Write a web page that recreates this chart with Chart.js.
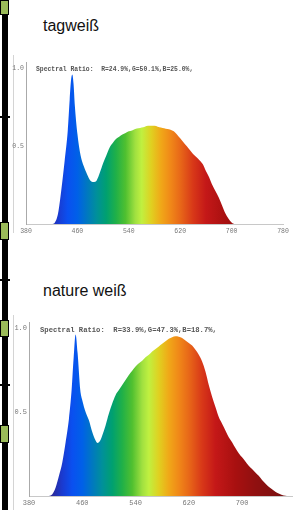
<!DOCTYPE html>
<html>
<head>
<meta charset="utf-8">
<script src="https://cdn.jsdelivr.net/npm/chart.js@4.4.1/dist/chart.umd.min.js"></script>
<style>
  html, body { margin: 0; padding: 0; background: #fff; }
  body { width: 293px; height: 510px; position: relative; overflow: hidden; font-family: "Liberation Sans", Arial, sans-serif; }
  .abs { position: absolute; }
  .bar { left: 2px; top: 0; width: 6px; height: 510px; background: #000; }
  .box { left: 0; width: 7px; background: #9bbb59; border: 1px solid #000; }
  .rule { left: 0; width: 10px; height: 2px; background: #000; }
  .frame { left: 13px; width: 1px; background: #d4d4d4; }
  .title { left: 43px; font-size: 16px; color: #111; }
  .ratio { font-family: "Liberation Mono", monospace; font-weight: bold; color: #555; white-space: pre; }
  .wrap { left: 0; width: 293px; }
</style>
</head>
<body>
<div class="abs bar"></div>
<div class="abs box" style="top:0;height:13px"></div>
<div class="abs box" style="top:222px;height:16px"></div>
<div class="abs box" style="top:320px;height:15px"></div>
<div class="abs box" style="top:425px;height:16px"></div>
<div class="abs rule" style="top:116px"></div>
<div class="abs rule" style="top:279px"></div>
<div class="abs rule" style="top:384px"></div>

<div class="abs frame" style="top:55px;height:178px"></div>
<div class="abs frame" style="top:315px;height:195px"></div>

<div class="abs title" style="top:17px">tagweiß</div>
<div class="abs title" style="top:282px">nature weiß</div>

<div class="abs wrap" style="top:50px;height:190px"><canvas id="chart1"></canvas></div>
<div class="abs wrap" style="top:305px;height:205px"><canvas id="chart2"></canvas></div>

<div class="abs ratio" style="left:36px;top:66px;font-size:6.4px">Spectral Ratio:  R=24.9%,G=50.1%,B=25.0%,</div>
<div class="abs ratio" style="left:40px;top:326px;font-size:7.2px">Spectral Ratio:  R=33.9%,G=47.3%,B=18.7%,</div>

<script>
// tagweiß spectrum
const wavelengths1 = [380, 420, 425, 430, 435, 440, 445, 448, 450, 452, 454, 456,
    460, 465, 470, 475, 480, 485, 490, 495, 500, 505, 510, 515, 520, 525, 530, 535,
    540, 545, 550, 555, 560, 565, 570, 575, 580, 585, 590, 595, 600, 605, 610, 615,
    620, 625, 630, 635, 640, 645, 650, 655, 660, 665, 670, 675, 680, 685, 690, 695,
    700, 705, 780];
const intensity1 = [0, 0, 0.01, 0.07, 0.22, 0.40, 0.60, 0.80, 0.92, 0.96, 0.90, 0.76,
    0.58, 0.44, 0.37, 0.32, 0.28, 0.27, 0.28, 0.33, 0.39, 0.44, 0.49, 0.52, 0.545, 0.56, 0.575, 0.585,
    0.595, 0.60, 0.61, 0.615, 0.62, 0.625, 0.63, 0.63, 0.63, 0.625, 0.62, 0.615, 0.61, 0.605, 0.595, 0.575,
    0.55, 0.525, 0.50, 0.475, 0.45, 0.43, 0.41, 0.385, 0.34, 0.30, 0.25, 0.21, 0.17, 0.12, 0.07, 0.035,
    0.01, 0, 0];

// nature weiß spectrum
const wavelengths2 = [380, 410, 415, 420, 425, 430, 435, 440, 444, 447, 450, 453, 457,
    460, 465, 470, 475, 480, 483, 487,
    490, 495, 500, 505, 510, 515, 520, 525, 530, 535, 540, 545, 550, 555, 560, 565,
    570, 575, 580, 585, 590, 595, 600, 605, 610, 615, 620, 625, 630, 635, 640, 645,
    650, 655, 660, 665, 670, 675, 680, 685, 690, 695, 700, 705, 710, 715, 720, 725,
    730, 735, 740, 745, 750, 755, 760, 765, 770, 780];
const intensity2 = [0, 0, 0.01, 0.05, 0.12, 0.20, 0.32, 0.46, 0.63, 0.82, 0.96, 0.85, 0.63,
    0.57, 0.50, 0.45, 0.38, 0.33, 0.315, 0.33,
    0.36, 0.42, 0.49, 0.55, 0.60, 0.63, 0.66, 0.69, 0.72, 0.745, 0.77, 0.79, 0.805, 0.825, 0.84, 0.86,
    0.875, 0.89, 0.905, 0.92, 0.935, 0.945, 0.95, 0.948, 0.94, 0.925, 0.91, 0.895, 0.87, 0.84, 0.80, 0.74,
    0.66, 0.59, 0.53, 0.47, 0.43, 0.39, 0.35, 0.32, 0.285, 0.255, 0.23, 0.205, 0.18, 0.16, 0.14, 0.12,
    0.095, 0.075, 0.055, 0.04, 0.025, 0.015, 0.006, 0.001, 0, 0];

const xTicks1 = [380, 460, 540, 620, 700, 780];
const xTicks2 = [380, 460, 540, 620, 700];
const yTicks = [0.5, 1.0];

// spectrum colours along the wavelength axis
const stopNm = [380, 415, 430, 445, 460, 475, 490, 505, 520, 535, 550, 560, 575, 590, 605, 620, 640, 660, 690, 720, 780];
const stopColors = ["#2a2a8a", "#2a2a9a", "#1a3ad0", "#0a50f0", "#0060e8", "#0078c0", "#00909a", "#00a070",
    "#20b048", "#50c030", "#a0e040", "#c0f040", "#e0d020", "#f0a818", "#f08818", "#e86818", "#d83818",
    "#c41818", "#a81010", "#901010", "#701010"];

function spectrumFill(context) {
    const chart = context.chart;
    const area = chart.chartArea;
    if (!area) return "#888";
    const x = chart.scales.x;
    const x0 = x.getPixelForValue(380);
    const x1 = x.getPixelForValue(780);
    const g = chart.ctx.createLinearGradient(x0, 0, x1, 0);
    stopNm.forEach((nm, i) => g.addColorStop((nm - 380) / 400, stopColors[i]));
    return g;
}

function makeChart(id, wl, vals, xTicks, opts) {
    return new Chart(document.getElementById(id), {
        type: "line",
        data: {
            datasets: [{
                data: wl.map((w, i) => ({ x: w, y: vals[i] })),
                fill: "origin",
                backgroundColor: spectrumFill,
                borderWidth: 0,
                pointRadius: 0,
                cubicInterpolationMode: "monotone"
            }]
        },
        options: {
            responsive: true,
            maintainAspectRatio: false,
            animation: false,
            layout: { padding: { top: opts.top, right: opts.right, left: 0, bottom: 0 } },
            plugins: { legend: { display: false }, tooltip: { enabled: false } },
            scales: {
                x: {
                    type: "linear",
                    min: 380,
                    max: opts.xMax,
                    afterBuildTicks: s => { s.ticks = xTicks.map(v => ({ value: v })); },
                    afterFit: s => { s.height = opts.xHeight; },
                    grid: { display: false, drawTicks: false },
                    border: { display: true, color: "#c8c8c8", width: 1 },
                    ticks: {
                        autoSkip: false, maxRotation: 0, padding: 3,
                        color: "#777", font: { family: "Liberation Mono", size: opts.font }
                    }
                },
                y: {
                    min: 0,
                    max: opts.yMax,
                    afterBuildTicks: s => { s.ticks = yTicks.map(v => ({ value: v })); },
                    afterFit: s => { s.width = opts.yWidth; },
                    grid: { display: false, drawTicks: false },
                    border: { display: true, color: "#aaa", width: 1 },
                    ticks: {
                        padding: 2, color: "#777",
                        font: { family: "Liberation Mono", size: opts.font },
                        callback: v => v.toFixed(1)
                    }
                }
            }
        }
    });
}

window.onload = () => {
    makeChart("chart1", wavelengths1, intensity1, xTicks1,
        { top: 12, right: 10, xMax: 780, yMax: 1.04, xHeight: 16, yWidth: 26, font: 6.5 });
    makeChart("chart2", wavelengths2, intensity2, xTicks2,
        { top: 17, right: 1, xMax: 775, yMax: 1.035, xHeight: 14, yWidth: 29, font: 7 });
};
</script>
</body>
</html>
